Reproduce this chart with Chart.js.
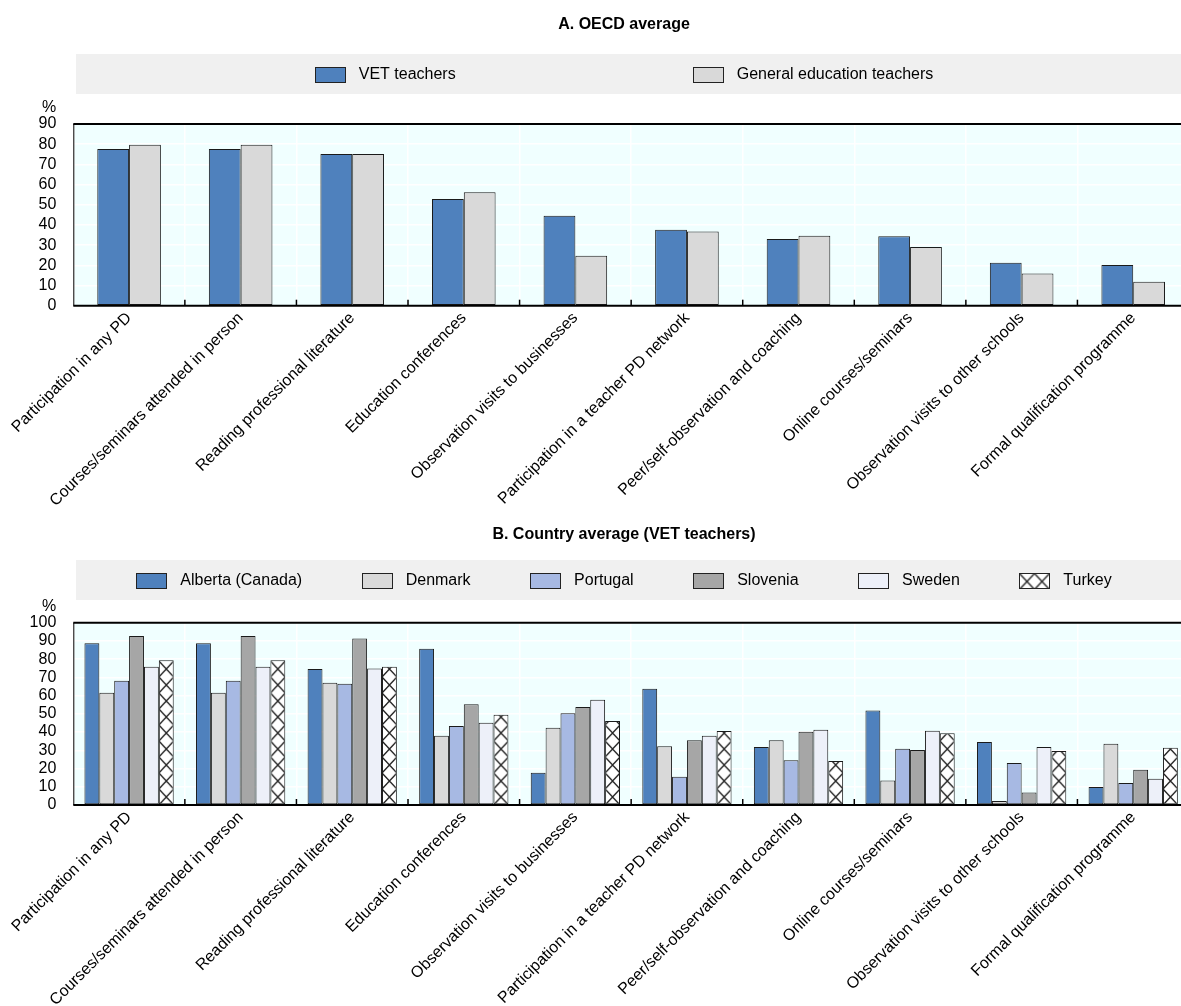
<!DOCTYPE html>
<html><head><meta charset="utf-8">
<script src="https://cdn.jsdelivr.net/npm/chart.js@4.4.0/dist/chart.umd.min.js"></script>
<style>
html,body{margin:0;padding:0;background:#fff;overflow:hidden;width:1181px;height:1006px;}
#wrapA{position:absolute;left:0;top:0;width:1190px;height:520px;}
#wrapB{position:absolute;left:0;top:520px;width:1190px;height:486px;}
canvas{display:block;}
</style></head><body>
<div id="wrapA"><canvas id="cA" width="1190" height="520"></canvas></div>
<div id="wrapB"><canvas id="cB" width="1190" height="486"></canvas></div>
<script>
// ---------- data ----------
const categories = [
  "Participation in any PD",
  "Courses/seminars attended in person",
  "Reading professional literature",
  "Education conferences",
  "Observation visits to businesses",
  "Participation in a teacher PD network",
  "Peer/self-observation and coaching",
  "Online courses/seminars",
  "Observation visits to other schools",
  "Formal qualification programme"
];
const titleA = "A. OECD average";
const titleB = "B. Country average (VET teachers)";
const seriesNamesA = ["VET teachers", "General education teachers"];
const vetTeachers     = [77.6, 77.6, 75.1, 52.8, 44.6, 37.6, 33.0, 34.4, 21.3, 20.2];
const generalTeachers = [79.7, 79.7, 75.1, 56.2, 24.8, 36.8, 34.7, 29.1, 16.0, 11.9];

const seriesNamesB = ["Alberta (Canada)", "Denmark", "Portugal", "Slovenia", "Sweden", "Turkey"];
const albertaCanada = [88.7, 88.7, 74.6, 85.7, 17.7, 63.8, 31.8, 51.9, 34.6, 9.9];
const denmark       = [61.6, 61.6, 67.0, 38.0, 42.4, 32.2, 35.5, 13.4, 2.2, 33.6];
const portugal      = [68.2, 68.2, 66.5, 43.3, 50.3, 15.5, 24.5, 30.9, 23.0, 12.1];
const slovenia      = [92.7, 92.7, 91.4, 55.2, 53.7, 35.5, 40.2, 30.2, 6.8, 19.4];
const sweden        = [75.9, 75.9, 74.9, 45.1, 57.7, 38.0, 41.3, 40.7, 31.8, 14.4];
const turkey        = [79.4, 79.4, 75.8, 49.5, 46.1, 40.6, 24.2, 39.3, 29.6, 31.4];

const yMaxA = 90, yMaxB = 100, yStep = 10;
const yUnit = "%";

// ---------- font choice (narrow face if installed) ----------
let FONT = "'Liberation Sans', Arial, sans-serif", FS = 16;
(function(){
  const c = document.createElement('canvas').getContext('2d');
  const s = 'abcdefghijklmnop0123456789';
  c.font = "19px 'Liberation Sans Narrow', monospace"; const w1 = c.measureText(s).width;
  c.font = "19px monospace"; const w2 = c.measureText(s).width;
  if (Math.abs(w1 - w2) > 0.5) { FONT = "'Liberation Sans Narrow', 'Arial Narrow', sans-serif"; FS = 19.5; }
})();
Chart.defaults.font.family = FONT;
Chart.defaults.font.size = FS;
Chart.defaults.color = '#000';

const COLORS = {
  blue: '#4F81BD', gray: '#D9D9D9', periwinkle: '#A7B9E3',
  dark: '#A6A6A6', pale: '#EDF0F9'
};

// hatch tile (X pattern)
const tile = document.createElement('canvas');
tile.width = 15; tile.height = 16;
(function(){
  const t = tile.getContext('2d');
  t.fillStyle = '#fff'; t.fillRect(0,0,15,16);
  t.strokeStyle = '#222'; t.lineWidth = 1.4;
  t.beginPath(); t.moveTo(0,0); t.lineTo(15,16); t.moveTo(15,0); t.lineTo(0,16); t.stroke();
})();
function makeHatch(ctx, x, y, sx) {
  const p = ctx.createPattern(tile, 'repeat');
  p.setTransform(new DOMMatrix([sx, 0, 0, 1, x, y]));
  return p;
}

const framePlugin = {
  id: 'oecdFrame',
  beforeDraw(chart, args, o) {
    const {ctx, chartArea: a} = chart;
    ctx.save();
    ctx.fillStyle = '#F0FFFF';
    ctx.fillRect(a.left, a.top, a.right - a.left, a.bottom - a.top);
    ctx.fillStyle = '#F0F0F0';
    ctx.fillRect(o.bandLeft, o.bandTop, chart.width - o.bandLeft, o.bandHeight);
    ctx.restore();
  },
  afterDatasetsDraw(chart, args, o) {
    const {ctx, chartArea: a} = chart;
    const xs = chart.scales.x;
    ctx.save();
    ctx.strokeStyle = '#000';
    ctx.lineWidth = 1;
    ctx.beginPath(); ctx.moveTo(a.left + 0.5, a.top); ctx.lineTo(a.left + 0.5, a.bottom); ctx.stroke();
    ctx.lineWidth = 2;
    ctx.beginPath(); ctx.moveTo(a.left, a.top); ctx.lineTo(a.right, a.top); ctx.stroke();
    ctx.beginPath(); ctx.moveTo(a.left, a.bottom); ctx.lineTo(a.right, a.bottom); ctx.stroke();
    ctx.lineWidth = 1.5;
    const n = chart.data.labels.length;
    for (let i = 1; i < n; i++) {
      const x = (xs.getPixelForValue(i - 1) + xs.getPixelForValue(i)) / 2;
      ctx.beginPath(); ctx.moveTo(x, a.bottom); ctx.lineTo(x, a.bottom - 6); ctx.stroke();
    }
    ctx.restore();
  },
  afterDraw(chart, args, o) {
    const {ctx, chartArea: a} = chart;
    ctx.save();
    ctx.fillStyle = '#000';
    ctx.font = 'bold ' + FS + 'px ' + FONT;
    ctx.textAlign = 'center'; ctx.textBaseline = 'middle';
    ctx.fillText(o.title, o.centerX, o.titleY);
    ctx.font = FS + 'px ' + FONT;
    ctx.textAlign = 'right';
    ctx.fillText(yUnit, a.left - 17, a.top - 16);
    // legend
    const sw = 30, sh = 15, tg = 14;
    const items = chart.data.datasets.map(d => ({text: d.label, d, w: sw + tg + ctx.measureText(d.label).width}));
    const total = items.reduce((s, it) => s + it.w, 0) + o.itemGap * (items.length - 1);
    let x = o.centerX - total / 2;
    const cy = o.bandTop + o.bandHeight / 2;
    ctx.textAlign = 'left';
    items.forEach(it => {
      const top = Math.round(cy - sh / 2) + 0.5, left = Math.round(x) + 0.5;
      ctx.fillStyle = it.d.hatch ? makeHatch(ctx, left, top, 1) : it.d.swatchColor;
      ctx.fillRect(left, top, sw, sh);
      ctx.strokeStyle = '#222'; ctx.lineWidth = 1;
      ctx.strokeRect(left, top, sw, sh);
      ctx.fillStyle = '#000';
      ctx.fillText(it.text, x + sw + tg, cy + 1);
      x += it.w + o.itemGap;
    });
    ctx.restore();
  }
};

function baseOptions(yMax, catPct, xHeight, frame) {
  return {
    responsive: false,
    animation: false,
    events: [],
    layout: { padding: { top: frame.plotTop, left: 0, right: 1, bottom: 0 } },
    plugins: {
      legend: { display: false },
      title: { display: false },
      tooltip: { enabled: false },
      oecdFrame: frame
    },
    datasets: { bar: { barPercentage: 1, categoryPercentage: catPct, borderWidth: 1, borderColor: '#1a1a1a', borderSkipped: false } },
    scales: {
      x: {
        type: 'category',
        offset: true,
        grid: { offset: true, color: '#FFFFFF', lineWidth: 1.5, drawTicks: false },
        border: { display: false },
        ticks: { autoSkip: false, maxRotation: 45, minRotation: 45, padding: 3, color: '#000', font: { size: FS } },
        afterFit: s => { s.height = xHeight; }
      },
      y: {
        min: 0, max: yMax,
        grid: { color: '#FFFFFF', lineWidth: 1.5, drawTicks: false },
        border: { display: false },
        ticks: { stepSize: yStep, autoSkip: false, padding: 17, color: '#000', font: { size: FS } },
        afterFit: s => { s.width = 73.3; }
      }
    }
  };
}

// ---------- Chart A ----------
new Chart(document.getElementById('cA'), {
  type: 'bar',
  data: {
    labels: categories,
    datasets: [
      { label: seriesNamesA[0], data: vetTeachers, backgroundColor: COLORS.blue, swatchColor: COLORS.blue },
      { label: seriesNamesA[1], data: generalTeachers, backgroundColor: COLORS.gray, swatchColor: COLORS.gray }
    ]
  },
  options: baseOptions(yMaxA, 0.57, 520 - 305.7, {
    title: titleA, centerX: 624, titleY: 25, plotTop: 124,
    bandLeft: 76, bandTop: 54, bandHeight: 40, itemGap: 237
  }),
  plugins: [framePlugin]
});

// ---------- Chart B ----------
const nB = seriesNamesB.length, catPctB = 0.8;
function turkeyFill(c) {
  const chart = c.chart;
  if (c.dataIndex === undefined || !chart.chartArea) return '#ffffff';
  const xs = chart.scales.x;
  const catW = xs.width / chart.data.labels.length;
  const bw = catW * catPctB / nB;
  const left = xs.getPixelForValue(c.dataIndex) - catW * catPctB / 2 + (nB - 1) * bw;
  return makeHatch(chart.ctx, left, chart.chartArea.bottom, bw / 15);
}
new Chart(document.getElementById('cB'), {
  type: 'bar',
  data: {
    labels: categories,
    datasets: [
      { label: seriesNamesB[0], data: albertaCanada, backgroundColor: COLORS.blue, swatchColor: COLORS.blue },
      { label: seriesNamesB[1], data: denmark, backgroundColor: COLORS.gray, swatchColor: COLORS.gray },
      { label: seriesNamesB[2], data: portugal, backgroundColor: COLORS.periwinkle, swatchColor: COLORS.periwinkle },
      { label: seriesNamesB[3], data: slovenia, backgroundColor: COLORS.dark, swatchColor: COLORS.dark },
      { label: seriesNamesB[4], data: sweden, backgroundColor: COLORS.pale, swatchColor: COLORS.pale },
      { label: seriesNamesB[5], data: turkey, backgroundColor: turkeyFill, hatch: true }
    ]
  },
  options: baseOptions(yMaxB, catPctB, 486 - 285, {
    title: titleB, centerX: 624, titleY: 15, plotTop: 102.7,
    bandLeft: 76, bandTop: 40, bandHeight: 40, itemGap: 59.5
  }),
  plugins: [framePlugin]
});
</script>
</body></html>
